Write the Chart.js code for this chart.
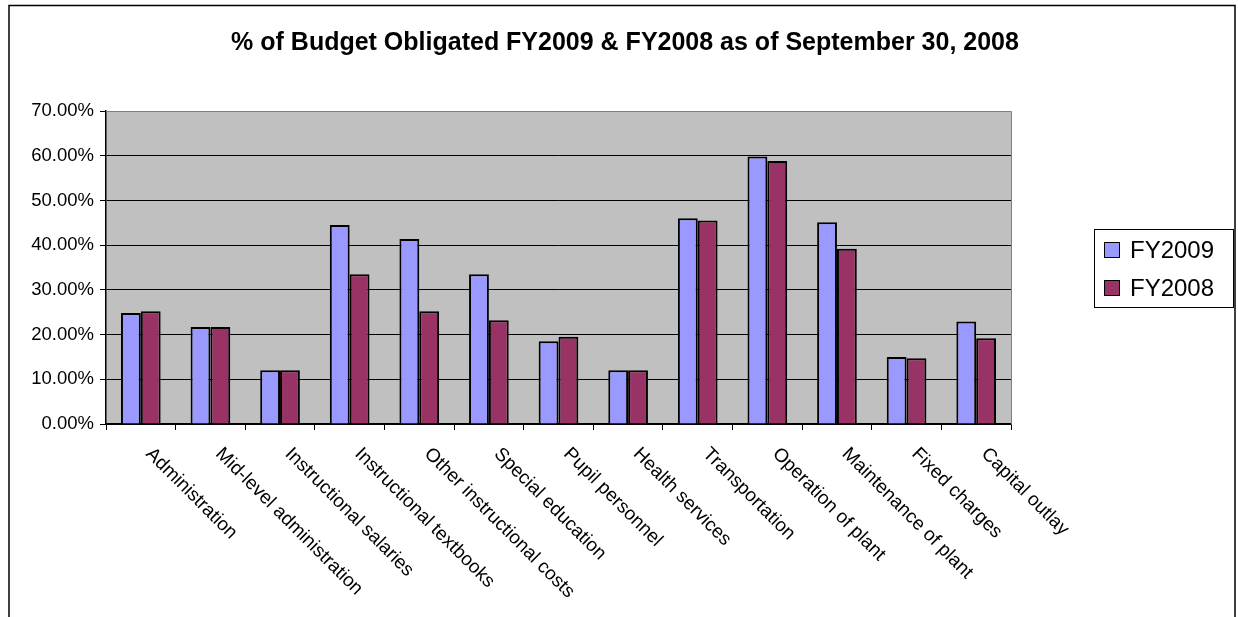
<!DOCTYPE html>
<html>
<head>
<meta charset="utf-8">
<script src="https://cdn.jsdelivr.net/npm/chart.js@4"></script>
<style>
  body { margin: 0; background: #fff; }
  #wrap { width: 1238px; height: 617px; position: relative; }
</style>
</head>
<body>
<div id="wrap"><canvas id="budget_chart"></canvas></div>
<script>
var categories = ["Administration", "Mid-level administration", "Instructional salaries", "Instructional textbooks",
    "Other instructional costs", "Special education", "Pupil personnel", "Health services", "Transportation",
    "Operation of plant", "Maintenance of plant", "Fixed charges", "Capital outlay"];
var fy2009 = [24.8, 21.7, 12.0, 44.5, 41.4, 33.5, 18.5, 12.0, 46.0, 59.8, 45.1, 15.0, 22.9];
var fy2008 = [25.2, 21.7, 12.0, 33.5, 25.2, 23.2, 19.5, 12.0, 45.5, 58.8, 39.2, 14.7, 19.2];
var yTicks = [0, 10, 20, 30, 40, 50, 60, 70];
var chartTitle = '% of Budget Obligated FY2009 & FY2008 as of September 30, 2008';

var FONT = '"Liberation Sans", Arial, sans-serif';

// frame, plot background, title, rotated labels and legend box
var excelLook = {
    id: 'excelLook',
    beforeDraw: function (chart) {
        var c = chart.ctx, a = chart.chartArea;
        c.save();
        c.fillStyle = '#fff';
        c.fillRect(0, 0, chart.width, chart.height);
        c.strokeStyle = '#000';
        c.lineWidth = 1.5;
        c.strokeRect(9, 5.5, 1226, 640);
        c.fillStyle = '#C0C0C0';
        c.fillRect(a.left, a.top, a.right - a.left, a.bottom - a.top);
        c.restore();
    },
    afterDraw: function (chart) {
        var c = chart.ctx, a = chart.chartArea;
        var x = chart.scales.x;
        c.save();
        // plot border (right + top, gray)
        c.strokeStyle = '#808080';
        c.lineWidth = 1;
        c.beginPath();
        c.moveTo(a.left, a.top + 0.5);
        c.lineTo(a.right + 0.5, a.top + 0.5);
        c.lineTo(a.right + 0.5, a.bottom);
        c.stroke();

        // title
        c.fillStyle = '#000';
        c.font = 'bold 25px ' + FONT;
        c.textAlign = 'center';
        c.textBaseline = 'alphabetic';
        c.fillText(chartTitle, 625, 49.5);

        // category labels, rotated 45 deg
        c.font = '19px ' + FONT;
        c.textAlign = 'left';
        c.textBaseline = 'middle';
        categories.forEach(function (lab, i) {
            var px = x.getPixelForTick(i);
            c.save();
            c.translate(px + 8, a.bottom + 27);
            c.rotate(Math.PI / 4);
            c.fillText(lab, 0, 0);
            c.restore();
        });

        // legend
        c.strokeStyle = '#000';
        c.lineWidth = 1;
        c.strokeRect(1094.5, 229.5, 139, 78);
        c.font = '24px ' + FONT;
        chart.data.datasets.forEach(function (ds, i) {
            var cy = 250 + i * 38;
            c.fillStyle = ds.backgroundColor;
            c.fillRect(1104.5, cy - 7.5, 15, 15);
            c.strokeRect(1104.5, cy - 7.5, 15, 15);
            c.fillStyle = '#000';
            c.fillText(ds.label, 1130, cy + 1);
        });
        c.restore();
    }
};

var ctx = document.getElementById('budget_chart').getContext('2d');
var budget = new Chart(ctx, {
    type: 'bar',
    data: {
        labels: categories,
        datasets: [{
            label: 'FY2009',
            data: fy2009,
            backgroundColor: '#9999FF',
            borderColor: '#000',
            borderWidth: 2,
            categoryPercentage: 0.57,
            barPercentage: 1
        }, {
            label: 'FY2008',
            data: fy2008,
            backgroundColor: '#993366',
            borderColor: '#000',
            borderWidth: 2,
            categoryPercentage: 0.57,
            barPercentage: 1
        }]
    },
    options: {
        responsive: true,
        maintainAspectRatio: false,
        animation: false,
        layout: {
            padding: { top: 111, left: 0, right: 227, bottom: 187 }
        },
        plugins: {
            legend: { display: false },
            title: { display: false },
            tooltip: { enabled: false }
        },
        scales: {
            x: {
                grid: {
                    offset: true,
                    drawOnChartArea: false,
                    drawTicks: true,
                    tickLength: 6,
                    color: '#000'
                },
                border: { color: '#000', width: 1.5 },
                ticks: { display: false },
                afterFit: function (s) { s.height = 6; }
            },
            y: {
                min: 0,
                max: 70,
                afterBuildTicks: function (s) {
                    s.ticks = yTicks.map(function (v) { return { value: v }; });
                },
                grid: {
                    color: '#000',
                    lineWidth: 1,
                    drawTicks: true,
                    tickLength: 6
                },
                border: { color: '#000', width: 1.5 },
                ticks: {
                    color: '#000',
                    padding: 6,
                    font: { family: FONT, size: 18.5 },
                    callback: function (v) { return v.toFixed(2) + '%'; }
                },
                afterFit: function (s) { s.width = 106; }
            }
        }
    },
    plugins: [excelLook]
});
</script>
</body>
</html>
